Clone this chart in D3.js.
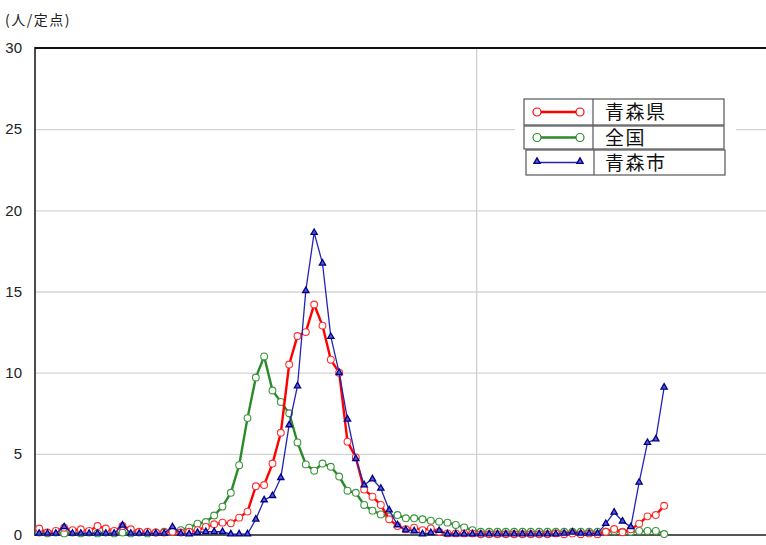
<!DOCTYPE html>
<html><head><meta charset="utf-8">
<script src="https://cdn.jsdelivr.net/npm/d3@7"></script>
<style>body{margin:0;background:#fff;} svg{display:block;}</style>
</head><body>
<svg id="chart" width="766" height="545"></svg>
<script>
// ---- data ----
const seriesNames = ["青森県", "全国", "青森市"];
const yTicks = [0, 5, 10, 15, 20, 25, 30];
const unitLabel = "(人/定点)";
const totalWeeks = 106;   // category slots on the x axis (two seasons)
const yearBreak = 53;     // vertical grid line position
const aomoriPref = [0.4,0.15,0.25,0.45,0.3,0.35,0.25,0.55,0.4,0.25,0.55,0.35,0.2,0.2,0.15,0.15,0.2,0.15,0.2,0.3,
  0.5,0.66,0.76,0.72,1.07,1.44,3.0,3.08,4.4,6.3,10.5,12.26,12.5,14.2,12.9,10.8,10.0,5.75,4.78,2.8,
  2.36,1.85,0.97,0.55,0.35,0.45,0.3,0.41,0.2,0.1,0.1,0.1,0.1,0.05,0.05,0.05,0.05,0.05,0.05,0.05,
  0.05,0.05,0.1,0.05,0.1,0.05,0.1,0.05,0.2,0.37,0.17,0.35,0.7,1.15,1.23,1.8];
const national = [0.15,0.1,0.15,0.1,0.15,0.1,0.15,0.1,0.15,0.1,0.15,0.1,0.15,0.1,0.15,0.2,0.25,0.3,0.45,0.7,
  0.8,1.2,1.75,2.6,4.3,7.2,9.7,11.0,8.9,8.2,7.5,5.7,4.35,3.96,4.4,4.2,3.6,2.73,2.6,1.85,
  1.5,1.27,1.13,1.23,1.03,1.03,0.97,0.88,0.82,0.76,0.62,0.47,0.3,0.2,0.2,0.2,0.2,0.2,0.2,0.2,
  0.2,0.2,0.2,0.2,0.2,0.2,0.2,0.2,0.2,0.25,0.2,0.2,0.25,0.25,0.25,0.06];
const aomoriCity = [0.1,0.1,0.1,0.5,0.1,0.1,0.1,0.1,0.1,0.1,0.6,0.1,0.1,0.1,0.1,0.1,0.5,0.1,0.06,0.15,
  0.2,0.2,0.2,0.06,0.06,0.06,0.97,2.16,2.42,3.53,6.78,9.18,15.05,18.63,16.74,12.22,10.0,7.13,4.7,3.08,
  3.45,2.87,1.54,0.62,0.31,0.25,0.06,0.14,0.27,0.06,0.06,0.06,0.06,0.06,0.06,0.06,0.06,0.06,0.06,0.06,
  0.06,0.06,0.06,0.1,0.17,0.1,0.1,0.1,0.7,1.4,0.85,0.5,3.24,5.69,5.91,9.1];

// ---- layout ----
const svg = d3.select("#chart");
const plotLeft = 35, plotTop = 48, plotBottom = 535, step = 8.333;
const x = d3.scaleBand().domain(d3.range(totalWeeks)).range([plotLeft, plotLeft + totalWeeks * step]).padding(0);
const y = d3.scaleLinear().domain([0, 30]).range([plotBottom, plotTop]);
const plotRight = plotLeft + totalWeeks * step;
const cx = i => x(i) + x.bandwidth() / 2;

// grid lines
svg.append("g").attr("transform", `translate(${plotLeft},0)`)
  .call(d3.axisLeft(y).tickValues(yTicks.filter(v => v > 0 && v < 30)).tickSize(-(plotRight - plotLeft)).tickFormat(""))
  .call(g => g.select(".domain").remove())
  .call(g => g.selectAll("line").attr("stroke", "#d4d4d4").attr("stroke-width", 1.3));
svg.append("line").attr("x1", x(yearBreak)).attr("x2", x(yearBreak)).attr("y1", plotTop).attr("y2", plotBottom)
  .attr("stroke", "#d0d0d0").attr("stroke-width", 1.3);

// frame
svg.append("line").attr("x1", plotLeft).attr("x2", plotRight).attr("y1", plotTop).attr("y2", plotTop).attr("stroke", "#111").attr("stroke-width", 2);
svg.append("line").attr("x1", plotLeft).attr("x2", plotRight).attr("y1", plotBottom).attr("y2", plotBottom).attr("stroke", "#555").attr("stroke-width", 2);
svg.append("line").attr("x1", plotLeft).attr("x2", plotLeft).attr("y1", plotTop - 1).attr("y2", plotBottom + 1).attr("stroke", "#111").attr("stroke-width", 1.5);

// y labels
svg.append("g").attr("transform", `translate(${plotLeft},0)`)
  .call(d3.axisLeft(y).tickValues(yTicks).tickSize(0).tickPadding(13))
  .call(g => g.select(".domain").remove())
  .call(g => g.selectAll("text").attr("font-family", "Liberation Sans, sans-serif").attr("font-size", 15).attr("fill", "#222"));

svg.append("text").attr("x", 5).attr("y", 25).text(unitLabel)
  .attr("font-family", "Noto Sans CJK JP").attr("font-size", 14).attr("letter-spacing", 1.5).attr("fill", "#222");

// series
const line = d3.line().x((d, i) => cx(i)).y(d => y(d));
const tri = d3.symbol().type(d3.symbolTriangle).size(17);

function drawCircles(data, color, lw, circ) {
  svg.append("path").datum(data).attr("d", line).attr("fill", "none").attr("stroke", color).attr("stroke-width", lw);
  svg.append("g").selectAll("circle").data(data).join("circle")
    .attr("cx", (d, i) => cx(i)).attr("cy", d => y(d)).attr("r", 3.4)
    .attr("fill", "#fff").attr("stroke", circ).attr("stroke-width", 1.1);
}
drawCircles(national, "#2a8a2a", 2.4, "#3c963c");
drawCircles(aomoriPref, "#ff0000", 2.4, "#ff3030");
svg.append("path").datum(aomoriCity).attr("d", line).attr("fill", "none").attr("stroke", "#2424b4").attr("stroke-width", 1.3);
svg.append("g").selectAll("path").data(aomoriCity).join("path")
  .attr("d", tri).attr("transform", (d, i) => `translate(${cx(i)},${y(d)})`)
  .attr("fill", "#5a5ad0").attr("stroke", "#000088").attr("stroke-width", 1.3);

// legend
const lg = svg.append("g");
lg.append("rect").attr("x", 515).attr("y", 93).attr("width", 221).attr("height", 88).attr("fill", "#fff");
const rows = [
  {name: seriesNames[0], x0: 524, x1: 724, y0: 99, y1: 125, div: 593, col: "#ff0000", mk: "c", lw: 2.4},
  {name: seriesNames[1], x0: 524, x1: 724, y0: 126, y1: 149, div: 593, col: "#2a8a2a", mk: "c", lw: 2.4},
  {name: seriesNames[2], x0: 526, x1: 725, y0: 150, y1: 175, div: 594, col: "#2424b4", mk: "t", lw: 1.3}
];
rows.forEach(r => {
  lg.append("rect").attr("x", r.x0).attr("y", r.y0).attr("width", r.x1 - r.x0).attr("height", r.y1 - r.y0)
    .attr("fill", "#fff").attr("stroke", "#555").attr("stroke-width", 1.2);
  lg.append("line").attr("x1", r.div).attr("x2", r.div).attr("y1", r.y0).attr("y2", r.y1).attr("stroke", "#555").attr("stroke-width", 1.2);
  const ym = (r.y0 + r.y1) / 2;
  lg.append("line").attr("x1", 537).attr("x2", 580).attr("y1", ym).attr("y2", ym).attr("stroke", r.col).attr("stroke-width", r.lw);
  [537, 580].forEach(px => {
    if (r.mk === "c") lg.append("circle").attr("cx", px).attr("cy", ym).attr("r", 4).attr("fill", "#fff").attr("stroke", r.col).attr("stroke-width", 1.2);
    else lg.append("path").attr("d", tri).attr("transform", `translate(${px},${ym - 1})`).attr("fill", "#5a5ad0").attr("stroke", "#000088").attr("stroke-width", 1.3);
  });
  lg.append("text").attr("x", 605).attr("y", ym + 7).text(r.name)
    .attr("font-family", "Noto Sans CJK JP").attr("font-size", 19).attr("letter-spacing", 1.5).attr("fill", "#111");
});
</script>
</body></html>
